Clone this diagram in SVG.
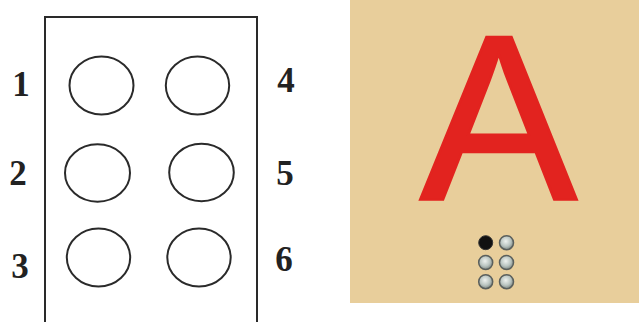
<svg xmlns="http://www.w3.org/2000/svg" width="639" height="322" viewBox="0 0 639 322">
<style>
.cell{fill:none;stroke:#2a2a2a;stroke-width:2}
.num{font-family:"Liberation Serif","DejaVu Serif",serif;font-weight:bold;font-size:35px;fill:#222;text-anchor:middle}
.dot{fill:url(#g);stroke:#5a5f5c;stroke-width:1.5}
</style>
<defs>
<radialGradient id="g" cx="0.45" cy="0.4" r="0.6">
<stop offset="0" stop-color="#eef2ef"/>
<stop offset="0.6" stop-color="#b9c4c0"/>
<stop offset="1" stop-color="#7d8783"/>
</radialGradient>
</defs>
<rect width="639" height="322" fill="#fff"/>
<g id="braille-cell">
<rect x="45" y="17" width="212" height="320" class="cell"/>
</g>
<g id="dot1"><ellipse cx="101.5" cy="85.5" rx="32" ry="29" class="cell"/><text x="21" y="96" class="num">1</text></g>
<g id="dot2"><ellipse cx="97.5" cy="173" rx="32.5" ry="28.7" class="cell"/><text x="18" y="185" class="num">2</text></g>
<g id="dot3"><ellipse cx="98.5" cy="257.5" rx="31.7" ry="29" class="cell"/><text x="20" y="278" class="num">3</text></g>
<g id="dot4"><ellipse cx="197.5" cy="85.5" rx="31.7" ry="29" class="cell"/><text x="286" y="92" class="num">4</text></g>
<g id="dot5"><ellipse cx="201.5" cy="172.5" rx="32.3" ry="28.7" class="cell"/><text x="285" y="185" class="num">5</text></g>
<g id="dot6"><ellipse cx="199" cy="257.5" rx="31.7" ry="29" class="cell"/><text x="284" y="271" class="num">6</text></g>
<g id="sign">
<rect x="350" y="0" width="289" height="303" fill="#e8ce9b"/>
<text x="498.5" y="199" font-family="Liberation Sans, Arial, sans-serif" font-size="236" fill="#e2231f" stroke="#e2231f" stroke-width="2.5" stroke-linejoin="miter" text-anchor="middle">A</text>
<circle cx="485.7" cy="242.7" r="7" fill="#111" stroke="#333" stroke-width="1"/>
<circle cx="506.5" cy="242.7" r="7" class="dot"/>
<circle cx="485.7" cy="262.5" r="7" class="dot"/>
<circle cx="506.5" cy="262.5" r="7" class="dot"/>
<circle cx="485.7" cy="281.7" r="7" class="dot"/>
<circle cx="506.5" cy="281.7" r="7" class="dot"/>
</g>
</svg>
